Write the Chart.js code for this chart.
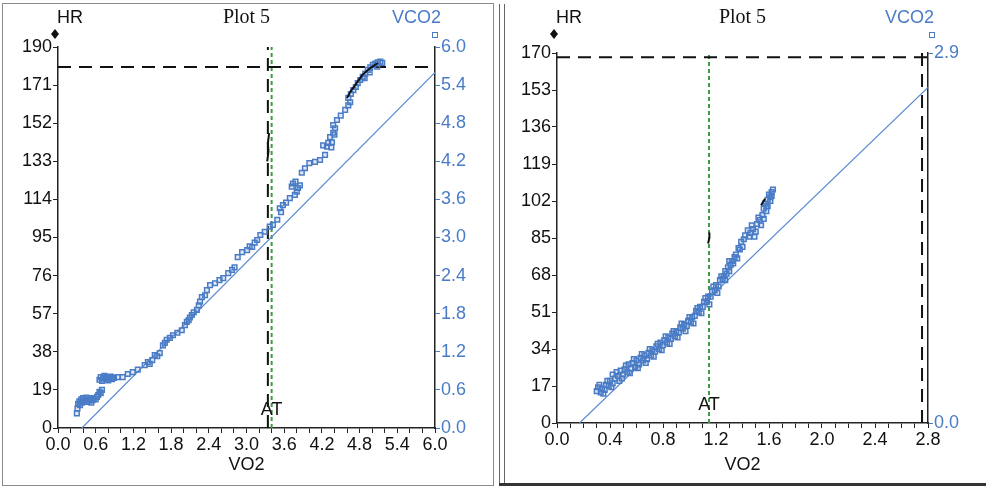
<!DOCTYPE html>
<html><head><meta charset="utf-8">
<script src="https://cdn.jsdelivr.net/npm/chart.js@4"></script>
<style>
body{margin:0;background:#fff;width:986px;height:487px;overflow:hidden;position:relative;}
canvas{position:absolute;top:0;}
.b{position:absolute;pointer-events:none;}
</style></head><body>
<canvas id="c1" width="493" height="487" style="left:0"></canvas>
<canvas id="c2" width="486" height="487" style="left:500px"></canvas>
<div class="b" style="left:2px;top:3px;width:490px;height:481px;border:1px solid #8a8a8a;"></div>
<div class="b" style="left:499px;top:4px;width:4px;height:480px;border-left:1px solid #666;border-right:1px solid #666;"></div>
<div class="b" style="left:499px;top:483px;width:487px;height:3px;background:#333;"></div>
<script>
// ---------- Left panel data ----------
const leftVO2 = [0.30,0.31,0.32,0.34,0.35,0.37,0.38,0.40,0.41,0.43,0.45,0.46,0.48,0.50,0.52,0.53,0.55,0.57,0.60,0.62,0.64,0.66,0.68,0.70,
0.66,0.68,0.70,0.72,0.74,0.76,0.78,0.80,0.82,0.84,0.86,0.89,0.95,1.03,1.11,1.19,1.27,
1.38,1.43,1.46,1.50,1.54,1.58,1.62,1.67,1.70,1.73,1.78,1.83,1.90,1.97,2.02,2.05,2.08,2.10,2.13,2.16,2.21,2.24,2.26,2.29,2.34,2.37,2.42,2.50,2.57,2.63,2.71,2.77,2.81,2.86,2.93,3.01,3.05,3.09,3.13,3.17,3.22,3.29,3.37,3.42,3.49,3.53,3.55,3.58,3.63,3.69,3.77,3.72,3.74,3.78,3.82,3.85,3.80,3.88,3.93,4.00,4.09,4.17,4.25,4.22,4.28,4.30,4.36,4.35,4.33,4.38,4.40,4.38,4.41,4.44,4.50,4.57,4.62,4.65,4.62,4.66,4.70,4.74,4.77,4.81,4.85,4.89,4.93,4.97,5.01,5.05,5.09,5.13,5.16,5.08,4.96,4.88];
const leftVCO2 = [0.23,0.31,0.38,0.42,0.36,0.45,0.40,0.47,0.42,0.44,0.48,0.41,0.45,0.43,0.47,0.40,0.44,0.46,0.45,0.49,0.52,0.57,0.55,0.60,
0.76,0.80,0.74,0.79,0.82,0.77,0.80,0.75,0.79,0.81,0.77,0.79,0.80,0.80,0.85,0.88,0.92,
0.99,1.04,1.01,1.07,1.15,1.13,1.18,1.30,1.34,1.39,1.42,1.46,1.50,1.54,1.62,1.67,1.70,1.74,1.78,1.82,1.86,1.93,1.99,2.06,2.09,2.17,2.25,2.28,2.33,2.36,2.44,2.49,2.53,2.69,2.77,2.80,2.86,2.85,2.92,2.96,3.04,3.09,3.17,3.20,3.28,3.46,3.40,3.51,3.55,3.62,3.67,3.80,3.85,3.88,3.78,3.82,3.72,4.02,4.09,4.17,4.19,4.22,4.30,4.45,4.43,4.49,4.50,4.42,4.58,4.65,4.62,4.77,4.72,4.85,4.92,5.01,5.08,5.13,5.20,5.26,5.32,5.37,5.43,5.48,5.53,5.58,5.64,5.68,5.72,5.74,5.76,5.77,5.75,5.69,5.60,5.51];
const leftHRvo2a = [4.60,4.66,4.73,4.84,4.97,5.09];
const leftHRa    = [164.5,168,171,176,179.5,182];
const leftHRvo2b = [3.33,3.35,3.34,3.36];
const leftHRb    = [133,138,142,147];
const leftRefLine = {vo2:[0.38,6.0], vco2:[0.0,5.6]};
const leftHRmax = 180, leftVO2max = 3.34, leftAT = 3.40;

// ---------- Right panel data ----------
const rightVO2 = [0.30,0.31,0.33,0.34,0.36,0.37,0.39,0.40,0.42,0.42,0.44,0.46,0.47,0.48,0.50,0.51,0.53,0.54,0.56,0.57,0.59,0.60,0.62,0.63,0.65,0.66,0.68,0.69,0.71,0.72,0.74,0.75,0.77,0.78,0.80,0.81,0.83,0.84,0.86,0.87,0.89,0.90,0.92,0.93,0.95,0.96,0.98,0.99,1.01,1.02,1.04,1.05,1.07,1.08,1.10,1.11,1.13,1.14,1.16,1.17,1.19,1.20,1.22,1.23,1.25,1.26,1.27,1.28,1.29,1.30,1.31,1.32,1.33,1.35,1.36,1.37,1.39,1.40,1.42,1.44,1.46,1.48,1.49,1.51,1.53,1.54,1.55,1.56,1.57,1.58,1.59,1.60,1.61,1.62,1.63,1.58,
0.32,0.35,0.38,0.41,0.45,0.49,0.52,0.55,0.58,0.61,0.64,0.67,0.70,0.73,0.76,0.79,0.82,0.85,0.88,0.91,0.94,0.97,1.00,1.03,1.06,1.09,1.12,1.15,1.18,1.21,1.24,1.27,1.30,1.34,1.38,1.41,1.45,1.47,1.50,1.52,1.56,1.59,1.61,1.62];
const rightVCO2 = [0.25,0.28,0.24,0.27,0.26,0.30,0.29,0.33,0.31,0.38,0.35,0.37,0.33,0.41,0.38,0.42,0.40,0.46,0.43,0.47,0.44,0.49,0.46,0.51,0.49,0.53,0.50,0.55,0.53,0.57,0.56,0.60,0.58,0.63,0.61,0.65,0.63,0.67,0.66,0.70,0.68,0.72,0.71,0.75,0.74,0.77,0.76,0.80,0.79,0.83,0.84,0.88,0.87,0.91,0.91,0.95,0.95,0.99,0.99,1.03,1.04,1.08,1.07,1.12,1.13,1.15,1.12,1.17,1.22,1.19,1.24,1.27,1.25,1.32,1.29,1.37,1.42,1.38,1.47,1.51,1.49,1.52,1.46,1.56,1.59,1.55,1.63,1.68,1.72,1.66,1.75,1.79,1.77,1.81,1.83,1.70,
0.30,0.23,0.33,0.28,0.40,0.35,0.45,0.39,0.50,0.43,0.54,0.47,0.58,0.52,0.62,0.57,0.68,0.62,0.72,0.67,0.78,0.72,0.83,0.78,0.90,0.86,0.98,0.93,1.07,1.02,1.15,1.19,1.27,1.30,1.36,1.44,1.46,1.55,1.50,1.61,1.60,1.70,1.74,1.78];
const rightHRvo2a = [1.14,1.15,1.15];
const rightHRa    = [82.5,85,87.5];
const rightHRvo2b = [1.54,1.57];
const rightHRb    = [100,103];
const rightRefLine = {vo2:[0.17,2.8], vco2:[0.0,2.63]};
const rightHRmax = 168, rightVO2max = 2.755, rightAT = 1.147;

// ---------- Axis ticks ----------
const leftXTicks = {max:6.0, step:0.2, labelEvery:3};
const leftHRTicks = {max:190, step:19};
const leftVTicks = {max:6.0, step:0.6};
const rightXTicks = {max:2.8, step:0.1, labelEvery:4};
const rightHRTicks = {max:170, step:17};
const rightVTickValues = [0.0, 2.9];

const BLUE = '#4a7cc6', GREEN = '#3c9c44', SANS = "'Liberation Sans', Arial, sans-serif";
const FS = 18;
const pts = (xs, ys) => xs.map((x,i)=>({x, y: ys[i]}));

function build(canvas, o){
  const textPlugin = {
    id:'txt',
    afterDraw(chart){
      const ctx = chart.ctx, a = chart.chartArea, xs = chart.scales.x;
      ctx.save();
      ctx.fillStyle = '#111';
      ctx.textBaseline = 'middle';
      ctx.font = "20px 'Liberation Serif', 'Times New Roman', serif";
      ctx.textAlign = 'center';
      ctx.fillText('Plot 5', (a.left + a.right)/2, 18);
      ctx.font = FS + 'px ' + SANS;
      ctx.textAlign = 'left';
      ctx.fillText('HR', a.left - 1, 18);
      // diamond
      const dx = a.left - 3, dy = 34;
      ctx.beginPath(); ctx.moveTo(dx, dy-5); ctx.lineTo(dx+4, dy); ctx.lineTo(dx, dy+5); ctx.lineTo(dx-4, dy); ctx.closePath(); ctx.fill();
      ctx.fillStyle = BLUE; ctx.textAlign = 'right';
      ctx.fillText('VCO2', a.right + 6, 18);
      ctx.strokeStyle = BLUE; ctx.lineWidth = 1;
      ctx.strokeRect(a.right - 2.5 + o.sqOff, 32.5, 5, 5);
      // AT label
      ctx.fillStyle = '#111'; ctx.textAlign = 'center';
      ctx.fillText('AT', xs.getPixelForValue(o.at), a.bottom - o.atUp);
      // x title
      ctx.fillText('VO2', (a.left + a.right)/2, 465);
      ctx.restore();
    }
  };
  const xT = o.xT;
  const y2 = {
    position:'right', min:0, max:o.vMax,
    afterFit(s){ s.width = o.wR; },
    grid:{drawOnChartArea:false, drawTicks:true, tickLength:5, color:BLUE},
    border:{display:true, color:'#222', width:1.5},
    ticks:{color:BLUE, font:{size:FS, family:SANS}, padding:1, callback:v=>Number(v).toFixed(1)}
  };
  if (o.vStep) y2.ticks.stepSize = o.vStep;
  if (o.vTickValues) y2.afterBuildTicks = s => { s.ticks = o.vTickValues.map(v=>({value:v})); };
  return new Chart(canvas, {
    type:'scatter',
    data:{datasets:[
      {label:'HR', data:pts(o.hrVo2a, o.hrA), yAxisID:'y', showLine:true, borderColor:'#111', borderWidth:2, pointRadius:0, order:0},
      {label:'HR2', data:pts(o.hrVo2b, o.hrB), yAxisID:'y', showLine:true, borderColor:'#111', borderWidth:2, pointRadius:0, order:0},
      {label:'VCO2', data:pts(o.vo2, o.vco2), yAxisID:'y2', pointStyle:'rect', pointRadius:o.pr, borderColor:BLUE, borderWidth:1.5, backgroundColor:'rgba(74,124,198,0.15)', order:1},
      {label:'ref', data:pts(o.ref.vo2, o.ref.vco2), yAxisID:'y2', showLine:true, borderColor:'#5a8ad0', borderWidth:1.2, pointRadius:0, order:2},
      {label:'hrmax', data:[{x:0,y:o.hrMaxLine},{x:xT.max,y:o.hrMaxLine}], yAxisID:'y', showLine:true, borderColor:'#111', borderWidth:2, borderDash:[13,8], pointRadius:0, order:3},
      {label:'vo2max', data:[{x:o.vo2Max,y:0},{x:o.vo2Max,y:o.hrT.max}], yAxisID:'y', showLine:true, borderColor:'#111', borderWidth:2, borderDash:[13,8], pointRadius:0, order:3},
      {label:'AT', data:[{x:o.at,y:0},{x:o.at,y:o.hrT.max}], yAxisID:'y', showLine:true, borderColor:GREEN, borderWidth:2, borderDash:[4,3], pointRadius:0, order:3}
    ]},
    options:{
      responsive:false, animation:false, devicePixelRatio:1,
      layout:{padding:{top:o.top, left:0, right:0, bottom:0}},
      plugins:{legend:{display:false}, tooltip:{enabled:false}},
      scales:{
        x:{type:'linear', min:0, max:xT.max,
          afterFit(s){ s.height = o.hX; },
          grid:{drawOnChartArea:false, drawTicks:true, tickLength:5, color:'#222'},
          border:{display:true, color:'#222', width:1.5},
          ticks:{stepSize:xT.step, autoSkip:false, maxRotation:0, color:'#111', padding:1, font:{size:FS, family:SANS},
            callback:(v,i)=> i % xT.labelEvery === 0 ? Number(v).toFixed(1) : ''}
        },
        y:{position:'left', min:0, max:o.hrT.max,
          afterFit(s){ s.width = o.wL; },
          grid:{drawOnChartArea:false, drawTicks:true, tickLength:5, color:'#222'},
          border:{display:true, color:'#222', width:1.5},
          ticks:{stepSize:o.hrT.step, color:'#111', padding:1, font:{size:FS, family:SANS}}
        },
        y2:y2
      }
    },
    plugins:[textPlugin]
  });
}

build(document.getElementById('c1'), {
  vo2:leftVO2, vco2:leftVCO2, hrVo2a:leftHRvo2a, hrA:leftHRa, hrVo2b:leftHRvo2b, hrB:leftHRb,
  ref:leftRefLine, hrMaxLine:leftHRmax, vo2Max:leftVO2max, at:leftAT,
  xT:leftXTicks, hrT:leftHRTicks, vMax:leftVTicks.max, vStep:leftVTicks.step,
  wL:58, wR:58, hX:59, top:47, atUp:18, pr:3.3, sqOff:0
});
build(document.getElementById('c2'), {
  vo2:rightVO2, vco2:rightVCO2, hrVo2a:rightHRvo2a, hrA:rightHRa, hrVo2b:rightHRvo2b, hrB:rightHRb,
  ref:rightRefLine, hrMaxLine:rightHRmax, vo2Max:rightVO2max, at:rightAT,
  xT:rightXTicks, hrT:rightHRTicks, vMax:2.9, vTickValues:rightVTickValues,
  wL:57, wR:58, hX:64, top:53, atUp:18, pr:3.3, sqOff:4
});
</script>
</body></html>
